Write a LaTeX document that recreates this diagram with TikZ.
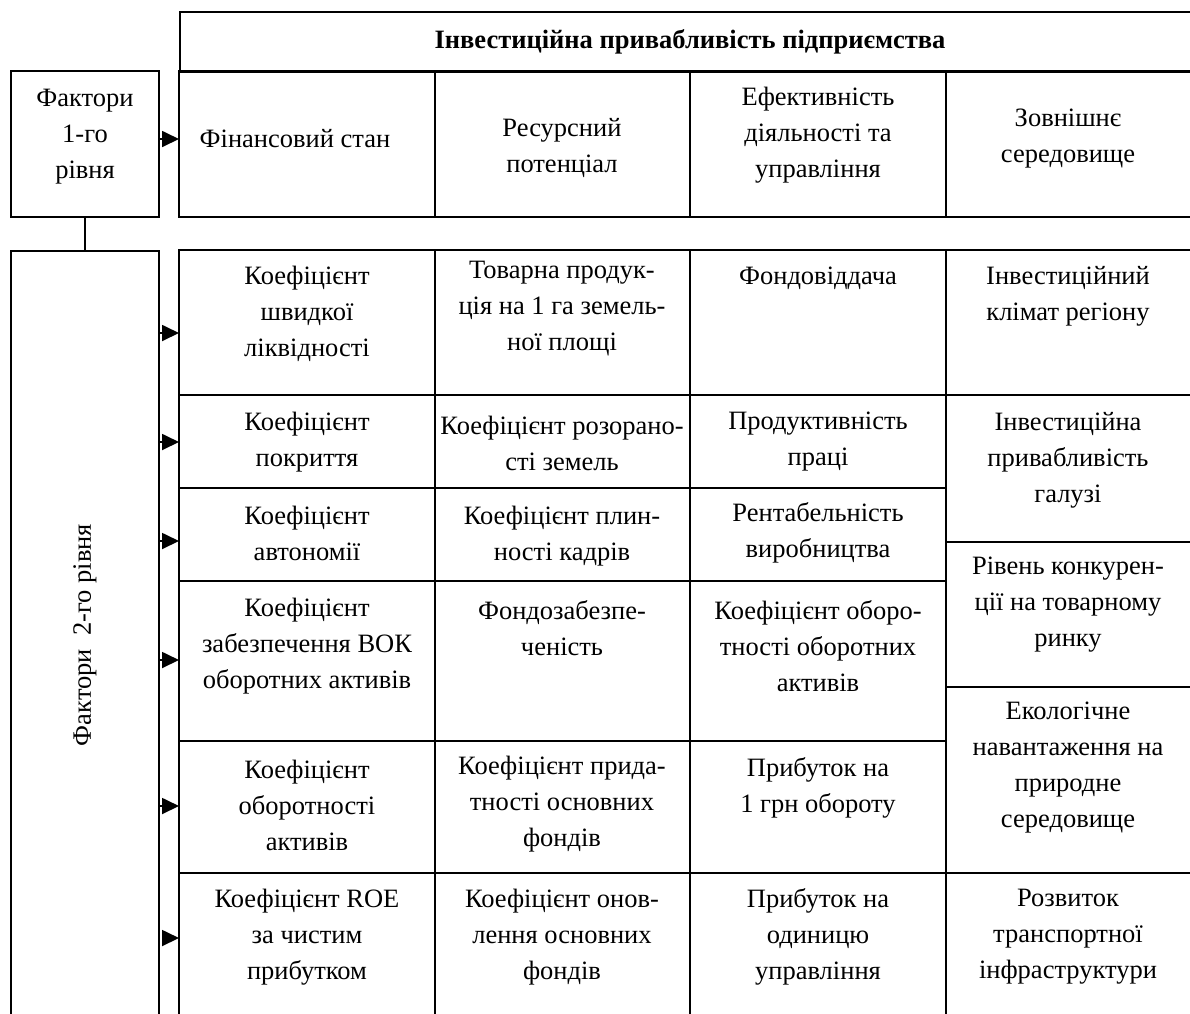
\documentclass[tikz,border=0pt]{standalone}
\usepackage{fontspec}
\setmainfont{Liberation Serif}
\usetikzlibrary{arrows.meta}
\begin{document}
\begin{tikzpicture}[x=1pt,y=-1pt,
  ln/.style={line width=1.8pt},
  cell/.style={align=center, font=\fontsize{26.5}{36}\selectfont, inner sep=0pt},
  arr/.style={line width=1.8pt, -{Triangle[length=17pt,width=16pt]}}]
\useasboundingbox (0,0) rectangle (1190,1013);
\fill[white] (0,0) rectangle (1190,1013);
\clip (0,0) rectangle (1190,1013);
% left boxes
\node[draw, ln, minimum width=148pt, minimum height=146pt, inner sep=0pt] (f1) at (85,144) {};
\node[cell] (f1t) at (85,137) {Фактори\\1-го\\рівня};
\node[draw, ln, minimum width=148pt, minimum height=800pt, inner sep=0pt, anchor=north] (f2) at (85,250) {};
\node[cell, rotate=90] (f2t) at (85,635) {Фактори\ \ 2-го рівня};
\draw[ln] (f1.south) -- (f2.north);
% header
\node[draw, ln, minimum width=1030pt, minimum height=60pt, inner sep=0pt, anchor=north west] (hdr) at (179,11) {};
\node[cell, font=\fontsize{26.5}{36}\selectfont\bfseries] (hdrt) at (690,42) {Інвестиційна привабливість підприємства};
% first-level row
\draw[ln] (179,71) rectangle (1210,217);
\foreach \x in {435,690,946} \draw[ln] (\x,71) -- (\x,217);
% second-level block
\draw[ln] (179,250) rectangle (1210,1060);
\foreach \x in {435,690,946} \draw[ln] (\x,250) -- (\x,1060);
\foreach \y in {395,488,581,741,873} \draw[ln] (179,\y) -- (946,\y);
\foreach \y in {395,542,687,873} \draw[ln] (946,\y) -- (1210,\y);
% first-level texts
\node[cell] (c11) at (295,139) {Фінансовий стан};
\node[cell] (c12) at (562,148) {Ресурсний\\потенціал};
\node[cell] (c13) at (818,135) {Ефективність\\діяльності та\\управління};
\node[cell] (c14) at (1068,139) {Зовнішнє\\середовище};
% second-level texts
\node[cell] (r1a) at (307,314) {Коефіцієнт\\швидкої\\ліквідності};
\node[cell] (r1b) at (562,309) {Товарна продук-\\ція на 1 га земель-\\ної площі};
\node[cell] (r1c) at (818,278) {Фондовіддача};
\node[cell] (r1d) at (1068,296) {Інвестиційний\\клімат регіону};
\node[cell] (r2a) at (307,442) {Коефіцієнт\\покриття};
\node[cell] (r2b) at (562,443) {Коефіцієнт розорано-\\сті земель};
\node[cell] (r2c) at (818,442) {Продуктивність\\праці};
\node[cell] (r2d) at (1068,460) {Інвестиційна\\привабливість\\галузі};
\node[cell] (r3a) at (307,533) {Коефіцієнт\\автономії};
\node[cell] (r3b) at (562,536) {Коефіцієнт плин-\\ності кадрів};
\node[cell] (r3c) at (818,533) {Рентабельність\\виробництва};
\node[cell] (r3d) at (1068,605) {Рівень конкурен-\\ції на товарному\\ринку};
\node[cell] (r4a) at (307,646) {Коефіцієнт\\забезпечення ВОК\\оборотних активів};
\node[cell] (r4b) at (562,628) {Фондозабезпе-\\ченість};
\node[cell] (r4c) at (818,646) {Коефіцієнт оборо-\\тності оборотних\\активів};
\node[cell] (r4d) at (1068,768) {Екологічне\\навантаження на\\природне\\середовище};
\node[cell] (r5a) at (307,805) {Коефіцієнт\\оборотності\\активів};
\node[cell] (r5b) at (562,804) {Коефіцієнт прида-\\тності основних\\фондів};
\node[cell] (r5c) at (818,788) {Прибуток на\\1 грн обороту};
\node[cell] (r6a) at (307,937) {Коефіцієнт ROE\\за чистим\\прибутком};
\node[cell] (r6b) at (562,937) {Коефіцієнт онов-\\лення основних\\фондів};
\node[cell] (r6c) at (818,937) {Прибуток на\\одиницю\\управління};
\node[cell] (r6d) at (1068,937) {Розвиток\\транспортної\\інфраструктури};
% arrow targets
\coordinate (t0) at (179,139);
\coordinate (t1) at (179,333);
\coordinate (t2) at (179,442);
\coordinate (t3) at (179,541);
\coordinate (t4) at (179,660);
\coordinate (t5) at (179,806);
\coordinate (t6) at (179,938);
\draw[arr] (f1.east |- t0) -- (t0);
\foreach \i in {1,...,5} \draw[arr] (f2.east |- t\i) -- (t\i);
\draw[arr] ([xshift=3pt]f2.east |- t6) -- (t6);
\end{tikzpicture}
\end{document}
